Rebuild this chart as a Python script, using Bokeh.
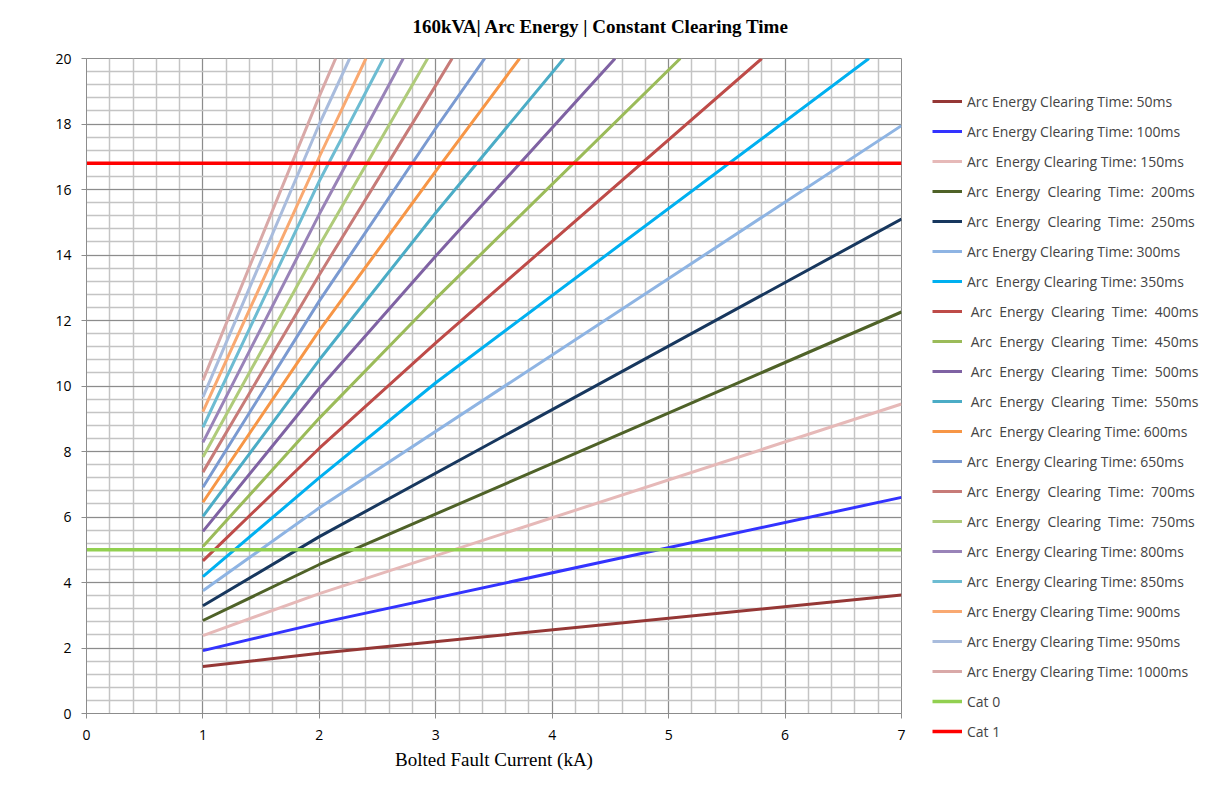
from bokeh.plotting import figure
from bokeh.models import Range1d, SingleIntervalTicker, Legend, LegendItem, Title
from bokeh.embed import file_html
from bokeh.resources import INLINE

# ---- data ----
clearing_times_ms = [50, 100, 150, 200, 250, 300, 350, 400, 450, 500,
                     550, 600, 650, 700, 750, 800, 850, 900, 950, 1000]

series_labels = [
    "Arc Energy Clearing Time: 50ms",
    "Arc Energy Clearing Time: 100ms",
    "Arc  Energy Clearing Time: 150ms",
    "Arc  Energy  Clearing  Time:  200ms",
    "Arc  Energy  Clearing  Time:  250ms",
    "Arc Energy Clearing Time: 300ms",
    "Arc  Energy Clearing Time: 350ms",
    " Arc  Energy  Clearing  Time:  400ms",
    " Arc  Energy  Clearing  Time:  450ms",
    " Arc  Energy  Clearing  Time:  500ms",
    " Arc  Energy  Clearing  Time:  550ms",
    " Arc  Energy Clearing Time: 600ms",
    "Arc  Energy Clearing Time: 650ms",
    "Arc  Energy  Clearing  Time:  700ms",
    "Arc  Energy  Clearing  Time:  750ms",
    "Arc  Energy Clearing Time: 800ms",
    "Arc  Energy Clearing Time: 850ms",
    "Arc Energy Clearing Time: 900ms",
    "Arc Energy Clearing Time: 950ms",
    "Arc Energy Clearing Time: 1000ms",
]

# bolted fault current (kA) points for each series
current_ka = [
    [1, 2, 7],
    [1, 2, 7],
    [1, 2, 7],
    [1, 2, 7],
    [1, 2, 7],
    [1, 2, 7],
    [1, 2, 3, 6.72],
    [1, 2, 3, 5.80],
    [1, 2, 3, 5.10],
    [1, 2, 3, 4.54],
    [1, 2, 3, 4.10],
    [1, 2, 3, 3.72],
    [1, 2, 3, 3.42],
    [1, 2, 3, 3.14],
    [1, 2, 2.93],
    [1, 2, 2.72],
    [1, 2, 2.55],
    [1, 2, 2.40],
    [1, 2, 2.26],
    [1, 2, 2.14],
]

# arc energy values for each series
arc_energy = [
    [1.435, 1.84, 3.62],
    [1.92, 2.76, 6.60],
    [2.38, 3.66, 9.45],
    [2.84, 4.55, 12.26],
    [3.29, 5.40, 15.10],
    [3.75, 6.28, 17.95],
    [4.18, 7.20, 10.10, 20],
    [4.66, 8.10, 11.32, 20],
    [5.10, 9.02, 12.67, 20],
    [5.56, 9.93, 13.97, 20],
    [6.02, 10.80, 15.29, 20],
    [6.45, 11.70, 16.56, 20],
    [6.91, 12.60, 17.87, 20],
    [7.37, 13.40, 19.18, 20],
    [7.83, 14.29, 20],
    [8.28, 15.25, 20],
    [8.74, 16.26, 20],
    [9.22, 17.00, 20],
    [9.66, 18.00, 20],
    [10.17, 18.85, 20],
]

series_colors = [
    "#953735", "#3333FF", "#E6B9B8", "#4F6228", "#17375E",
    "#8EB4E3", "#00B0F0", "#BE4B48", "#9BBB59", "#7F62A3",
    "#4BACC6", "#F79646", "#7A9AD1", "#C77B78", "#AFCB7A",
    "#9983B8", "#6DBCD2", "#F9A971", "#A9BCDD", "#D9A9A8",
]

cat_labels = ["Cat 0", "Cat 1"]
cat_levels = [5.0, 16.8]
cat_x = [0, 7]
cat_colors = ["#92D050", "#FF0000"]

chart_title = "160kVA| Arc Energy | Constant Clearing Time"

# ---- figure ----
p = figure(frame_width=815, frame_height=655, output_backend="svg", toolbar_location=None,
           x_range=Range1d(0, 7), y_range=Range1d(0, 20), title=None,
           min_border_left=86, min_border_right=0,
           min_border_top=58, min_border_bottom=72)

# spacer between the title and the frame (closest to frame), then the title
spacer = Title(text=" ", text_font_size="12px", standoff=1)
p.add_layout(spacer, "above")
main_title = Title(text=chart_title, text_font="Liberation Serif",
                   text_font_style="bold", text_font_size="19px",
                   text_color="black", align="left", offset=326, standoff=10)
p.add_layout(main_title, "above")

p.outline_line_color = "#8C8C8C"
p.background_fill_color = "white"
p.border_fill_color = "white"

p.xaxis.ticker = SingleIntervalTicker(interval=1, num_minor_ticks=5)
p.yaxis.ticker = SingleIntervalTicker(interval=2, num_minor_ticks=5)

for ax in (p.xaxis[0], p.yaxis[0]):
    ax.axis_line_color = "#8C8C8C"
    ax.major_tick_line_color = "#8C8C8C"
    ax.major_tick_in = 0
    ax.major_tick_out = 5
    ax.minor_tick_line_color = None
    ax.major_label_text_font = "Open Sans"
    ax.major_label_text_font_size = "14px"
    ax.major_label_text_color = "black"

p.xaxis.major_label_standoff = 11
p.yaxis.major_label_standoff = 10
p.xaxis.axis_label = "Bolted Fault Current (kA)"
p.xaxis.axis_label_text_font = "Liberation Serif"
p.xaxis.axis_label_text_font_style = "normal"
p.xaxis.axis_label_text_font_size = "19px"
p.xaxis.axis_label_text_color = "black"
p.xaxis.axis_label_standoff = 6

for g in (p.xgrid[0], p.ygrid[0]):
    g.grid_line_color = "#8C8C8C"
    g.grid_line_width = 1
    g.minor_grid_line_color = "#C4C4C4"
    g.minor_grid_line_width = 1.5

items = []
for xs, ys, col, lab in zip(current_ka, arc_energy, series_colors, series_labels):
    r = p.line(xs, ys, line_color=col, line_width=3, line_join="round")
    items.append(LegendItem(label=lab, renderers=[r]))

for lev, col, lab in zip(cat_levels, cat_colors, cat_labels):
    r = p.line(cat_x, [lev, lev], line_color=col, line_width=3.5)
    items.append(LegendItem(label=lab, renderers=[r]))

legend = Legend(items=items, location=(31, -28),
                glyph_width=30, glyph_height=20, label_height=20,
                label_standoff=5, spacing=10, padding=0, margin=0,
                label_text_font="Open Sans", label_text_font_size="14px",
                border_line_color=None, background_fill_alpha=0)
p.add_layout(legend, "right")

open("out.html", "w").write(file_html(p, INLINE))
